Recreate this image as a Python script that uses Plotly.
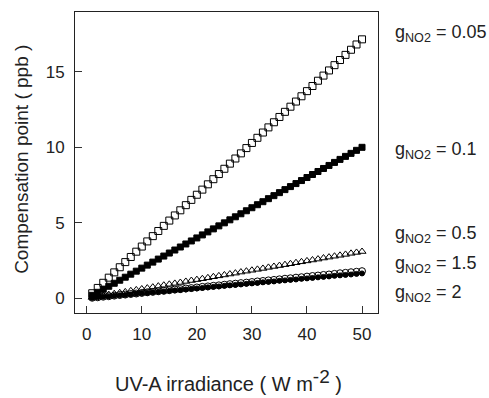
import plotly.graph_objects as go

irradiance = list(range(1, 51))

cp_g005 = [0.34, 0.69, 1.03, 1.37, 1.72, 2.06, 2.40, 2.74, 3.09, 3.43, 3.77, 4.12, 4.46, 4.80, 5.15, 5.49, 5.83,
           6.17, 6.52, 6.86, 7.20, 7.55, 7.89, 8.23, 8.58, 8.92, 9.26, 9.60, 9.95, 10.29, 10.63, 10.98, 11.32,
           11.66, 12.01, 12.35, 12.69, 13.03, 13.38, 13.72, 14.06, 14.41, 14.75, 15.09, 15.44, 15.78, 16.12,
           16.46, 16.81, 17.15]
cp_g01 = [0.20, 0.40, 0.60, 0.80, 1.00, 1.20, 1.40, 1.60, 1.80, 2.00, 2.20, 2.40, 2.60, 2.80, 3.00, 3.20, 3.40,
          3.60, 3.80, 4.00, 4.20, 4.40, 4.60, 4.80, 5.00, 5.20, 5.40, 5.60, 5.80, 6.00, 6.20, 6.40, 6.60, 6.80,
          7.00, 7.20, 7.40, 7.60, 7.80, 8.00, 8.20, 8.40, 8.60, 8.80, 9.00, 9.20, 9.40, 9.60, 9.80, 10.00]
cp_g05 = [0.06, 0.12, 0.19, 0.25, 0.31, 0.37, 0.43, 0.50, 0.56, 0.62, 0.68, 0.74, 0.81, 0.87, 0.93, 0.99, 1.05,
          1.12, 1.18, 1.24, 1.30, 1.36, 1.43, 1.49, 1.55, 1.61, 1.67, 1.74, 1.80, 1.86, 1.92, 1.98, 2.05, 2.11,
          2.17, 2.23, 2.29, 2.36, 2.42, 2.48, 2.54, 2.60, 2.67, 2.73, 2.79, 2.85, 2.91, 2.98, 3.04, 3.10]
cp_g15 = [0.04, 0.07, 0.11, 0.14, 0.18, 0.22, 0.25, 0.29, 0.32, 0.36, 0.40, 0.43, 0.47, 0.50, 0.54, 0.58, 0.61,
          0.65, 0.68, 0.72, 0.76, 0.79, 0.83, 0.86, 0.90, 0.94, 0.97, 1.01, 1.04, 1.08, 1.12, 1.15, 1.19, 1.22,
          1.26, 1.30, 1.33, 1.37, 1.40, 1.44, 1.48, 1.51, 1.55, 1.58, 1.62, 1.66, 1.69, 1.73, 1.76, 1.80]
cp_g2 = [0.03, 0.07, 0.10, 0.13, 0.17, 0.20, 0.23, 0.26, 0.30, 0.33, 0.36, 0.40, 0.43, 0.46, 0.50, 0.53, 0.56,
         0.59, 0.63, 0.66, 0.69, 0.73, 0.76, 0.79, 0.83, 0.86, 0.89, 0.92, 0.96, 0.99, 1.02, 1.06, 1.09, 1.12,
         1.16, 1.19, 1.22, 1.25, 1.29, 1.32, 1.35, 1.39, 1.42, 1.45, 1.49, 1.52, 1.55, 1.58, 1.62, 1.65]

series_labels = ["0.05", "0.1", "0.5", "1.5", "2"]
label_pos = [0.928, 0.541, 0.262, 0.162, 0.066]

x_ticks = [0, 10, 20, 30, 40, 50]
y_ticks = [0, 5, 10, 15]

FONT = "Liberation Sans, Arial, sans-serif"

fig = go.Figure()

styles = [
    (cp_g2, "circle", "black", 5),
    (cp_g15, "circle-open", "black", 7),
    (cp_g05, "triangle-up-open", "black", 7),
    (cp_g01, "square", "black", 6),
    (cp_g005, "square-open", "black", 7),
]
for ys, sym, col, sz in styles:
    fig.add_trace(go.Scatter(
        x=irradiance, y=ys, mode="markers",
        marker=dict(symbol=sym, size=sz, color=col, line=dict(color="black", width=1)),
        showlegend=False, hoverinfo="skip"))

for lab, yp in zip(series_labels, label_pos):
    fig.add_annotation(x=1.05, y=yp, xref="paper", yref="paper", xanchor="left", yanchor="middle",
                       text=f"g<sub>NO2</sub> = {lab}", showarrow=False,
                       font=dict(family=FONT, size=18, color="#222"))

fig.add_annotation(x=0.505, y=-0.225, xref="paper", yref="paper", xanchor="center", yanchor="middle",
                   text='UV-A irradiance ( W m<sup><span style="font-size:19px">-2</span></sup> )',
                   showarrow=False,
                   font=dict(family=FONT, size=20, color="#222"))
fig.add_annotation(x=-0.175, y=0.512, xref="paper", yref="paper", xanchor="center", yanchor="middle",
                   text="Compensation point ( ppb )", showarrow=False, textangle=-90,
                   font=dict(family=FONT, size=19, color="#222"))

fig.update_layout(
    width=489, height=398,
    margin=dict(l=75, r=111, t=12, b=85),
    plot_bgcolor="white", paper_bgcolor="white",
    font=dict(family=FONT, size=17, color="#222"),
)
fig.update_xaxes(
    range=[-2.13, 52.9], tickvals=x_ticks, ticks="inside", ticklen=7, tickcolor="#333",
    showline=True, linecolor="#222", linewidth=1, mirror=True, showgrid=False, zeroline=False,
    ticklabelstandoff=6,
)
fig.update_yaxes(
    range=[-0.97, 18.96], tickvals=y_ticks, ticks="inside", ticklen=7, tickcolor="#333",
    showline=True, linecolor="#222", linewidth=1, mirror=True, showgrid=False, zeroline=False,
    ticklabelstandoff=6,
)

fig.write_html("out.html")
